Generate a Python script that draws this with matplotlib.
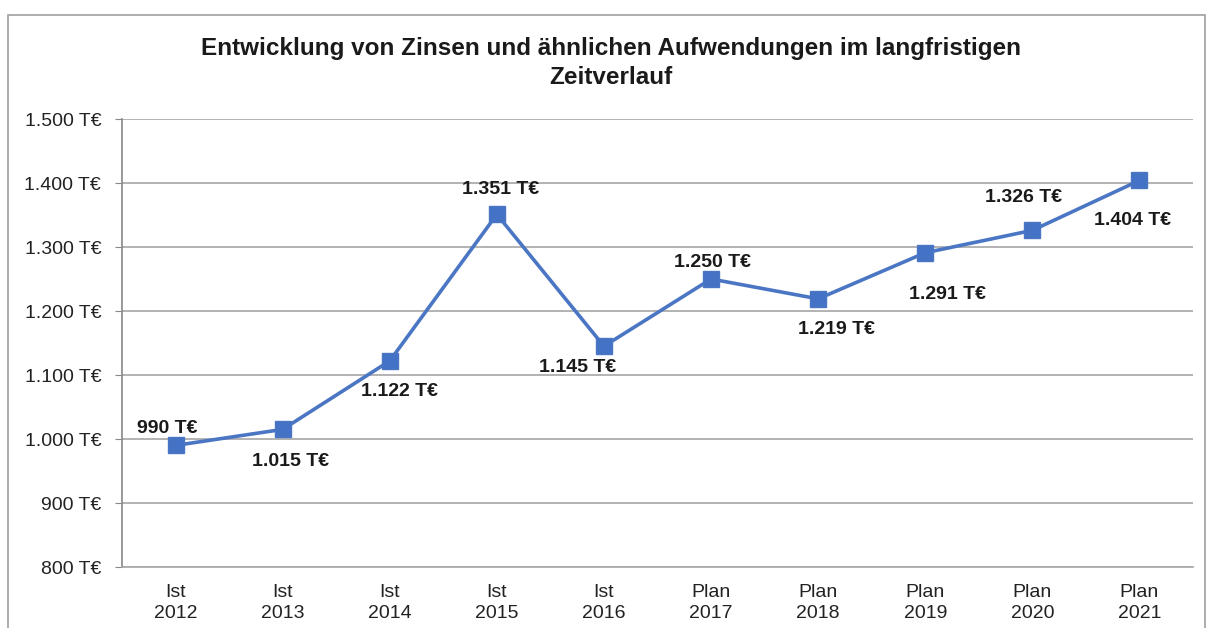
import matplotlib.pyplot as plt
from matplotlib.patches import Rectangle

plt.rcParams['font.family'] = ['Liberation Sans', 'DejaVu Sans']

categories = ['Ist\n2012', 'Ist\n2013', 'Ist\n2014', 'Ist\n2015', 'Ist\n2016',
              'Plan\n2017', 'Plan\n2018', 'Plan\n2019', 'Plan\n2020', 'Plan\n2021']
values = [990, 1015, 1122, 1351, 1145, 1250, 1219, 1291, 1326, 1404]
y_ticks = [800, 900, 1000, 1100, 1200, 1300, 1400, 1500]

# label offsets in points (dx, dy) per point
label_offsets = [(-6, 12), (6, -23), (7, -22), (3, 18), (-19, -15),
                 (1, 12), (13, -22), (16, -30), (-6, 24), (-5, -29)]

def fmt(v):
    s = f'{v:,}'.replace(',', '.')
    return s + ' T€'

fig = plt.figure(figsize=(12.08, 6.28), dpi=100)
fig.patches.append(Rectangle((8 / 1208, -0.05), 1197 / 1208, 1 - 15 / 628 + 0.05,
                             transform=fig.transFigure, fill=False,
                             edgecolor='#a0a0a0', linewidth=1.2))

ax = fig.add_axes([122 / 1208, 1 - 567 / 628, (1193 - 122) / 1208, (567 - 119) / 628])
x = range(len(values))
ax.plot(x, values, color='#4a76c4', linewidth=2.6, marker='s', markersize=11,
        markerfacecolor='#4472c4', markeredgecolor='#4a76c4', zorder=3)

for i, v in enumerate(values):
    dx, dy = label_offsets[i]
    ax.annotate(fmt(v), (i, v), xytext=(dx, dy), textcoords='offset points',
                ha='center', va='center', fontsize=14, fontweight='bold', color='#1a1a1a')

ax.set_xlim(-0.5, len(values) - 0.5)
ax.set_ylim(800, 1500)
ax.set_yticks(y_ticks)
ax.set_yticklabels([fmt(t) for t in y_ticks], fontsize=14, color='#222222')
ax.set_xticks(list(x))
ax.set_xticklabels(categories, fontsize=14, color='#222222', linespacing=1.35)
ax.tick_params(axis='x', length=0, pad=12)
ax.tick_params(axis='y', length=5, color='#888888', pad=10)
ax.grid(axis='y', color='#a6a6a6', linewidth=1.2)
ax.set_axisbelow(True)
for side in ['top', 'right']:
    ax.spines[side].set_visible(False)
ax.spines['left'].set_color('#888888')
ax.spines['bottom'].set_color('#a6a6a6')
ax.spines['left'].set_linewidth(1.2)
ax.spines['bottom'].set_linewidth(1.2)

fig.text(611 / 1208, 1 - 63 / 628,
         'Entwicklung von Zinsen und ähnlichen Aufwendungen im langfristigen\nZeitverlauf',
         ha='center', va='center', fontsize=17.5, fontweight='bold', color='#1a1a1a',
         linespacing=1.35)

fig.savefig('out.png', dpi=100)
